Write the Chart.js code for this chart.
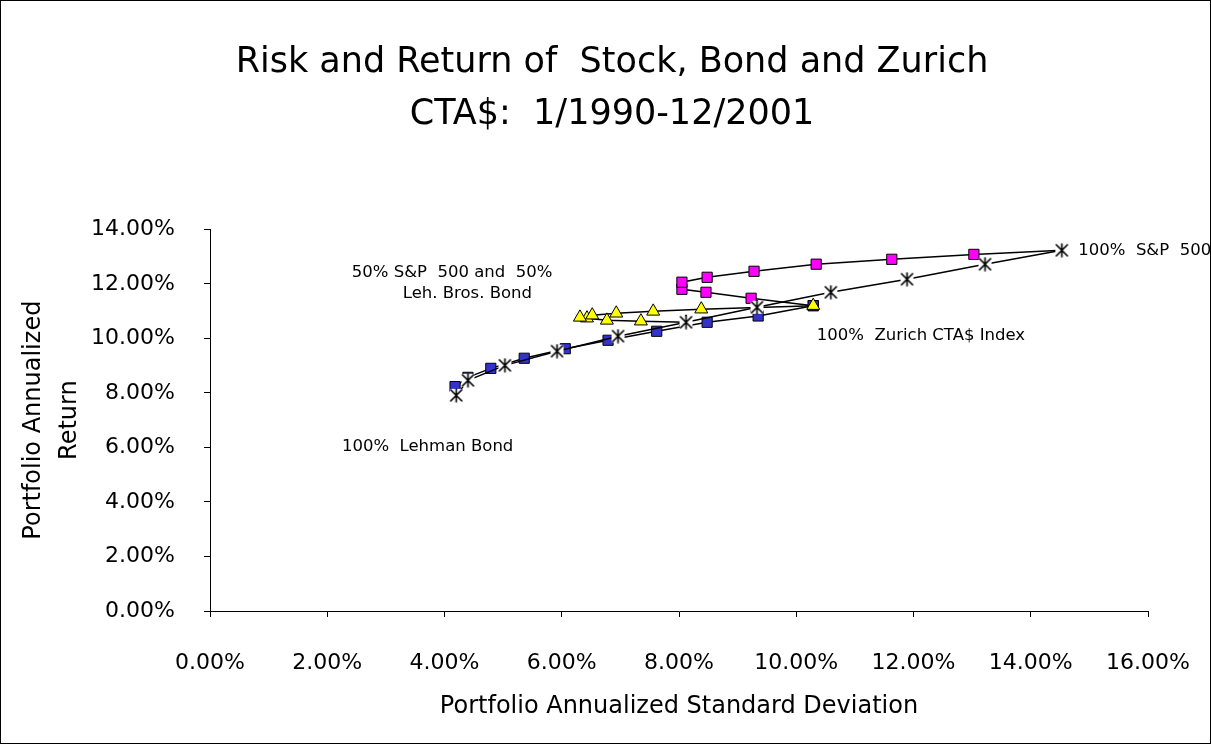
<!DOCTYPE html>
<html>
<head>
<meta charset="utf-8">
<title>Risk and Return of Stock, Bond and Zurich</title>
<script src="https://cdn.jsdelivr.net/npm/chart.js@4.4.1/dist/chart.umd.min.js"></script>
<style>
  html, body { margin: 0; padding: 0; background: #fff; }
  #chart { display: block; }
</style>
</head>
<body>
<canvas id="chart" width="1211" height="744"></canvas>
<script>
// values in percent
const stockBondSD   = [4.20, 4.40, 5.03, 5.92, 6.96, 8.12, 9.33, 10.59, 11.89, 13.22, 14.53];
const stockBondRet  = [7.91, 8.46, 9.01, 9.53, 10.08, 10.59, 11.14, 11.69, 12.17, 12.72, 13.23];

const mixZurichSD   = [8.12, 7.35, 6.77, 6.43, 6.31, 6.52, 6.93, 7.56, 8.38, 9.33, 10.29];
const mixZurichRet  = [10.59, 10.63, 10.66, 10.74, 10.77, 10.85, 10.92, 10.99, 11.07, 11.13, 11.20];

const bondZurichSD  = [4.20, 4.18, 4.40, 4.79, 5.36, 6.06, 6.79, 7.62, 8.48, 9.35, 10.29];
const bondZurichRet = [7.91, 8.23, 8.57, 8.90, 9.27, 9.62, 9.93, 10.26, 10.59, 10.82, 11.20];

const stockZurichSD  = [10.29, 9.23, 8.46, 8.05, 8.05, 8.48, 9.28, 10.34, 11.63, 13.03, 14.53];
const stockZurichRet = [11.20, 11.47, 11.69, 11.80, 12.06, 12.24, 12.46, 12.72, 12.90, 13.08, 13.23];

const xTicks = [0, 2, 4, 6, 8, 10, 12, 14, 16];
const yTicks = [0, 2, 4, 6, 8, 10, 12, 14];

// text notes placed in data coordinates
const noteText  = ['100%  S&P  500', '50% S&P  500 and  50%', 'Leh. Bros. Bond', '100%  Zurich CTA$ Index', '100%  Lehman Bond'];
const noteSD    = [14.81, 4.13, 4.39, 10.35, 2.25];
const noteRet   = [13.23, 12.42, 11.65, 10.11, 6.01];
const noteAlign = ['left', 'center', 'center', 'left', 'left'];

const FONT = "'DejaVu Sans', sans-serif";

function toPoints(xs, ys) {
    return xs.map((x, i) => ({ x: x, y: ys[i] }));
}

// asterisk marker on a small white square, like the original
function makeStar() {
    const c = document.createElement('canvas');
    c.width = 15;
    c.height = 15;
    const g = c.getContext('2d');
    g.fillStyle = '#fff';
    g.fillRect(1, 1, 13, 13);
    g.strokeStyle = '#000';
    g.lineWidth = 1.6;
    g.beginPath();
    g.moveTo(1.5, 1.5); g.lineTo(13.5, 13.5);
    g.moveTo(13.5, 1.5); g.lineTo(1.5, 13.5);
    g.moveTo(7.5, 0.5); g.lineTo(7.5, 14.5);
    g.stroke();
    return c;
}

const frame = {
    id: 'frame',
    beforeDraw(chart) {
        const ctx = chart.ctx;
        ctx.save();
        ctx.fillStyle = '#fff';
        ctx.fillRect(0, 0, chart.width, chart.height);
        ctx.strokeStyle = '#000';
        ctx.lineWidth = 1;
        ctx.strokeRect(0.5, 0.5, chart.width - 1, chart.height - 1);
        ctx.restore();
    }
};

const notes = {
    id: 'notes',
    afterDraw(chart) {
        const ctx = chart.ctx;
        const xs = chart.scales.x;
        const ys = chart.scales.y;
        ctx.save();
        ctx.fillStyle = '#000';
        ctx.font = '16.5px ' + FONT;
        ctx.textBaseline = 'middle';
        noteText.forEach((t, i) => {
            ctx.textAlign = noteAlign[i];
            ctx.fillText(t, xs.getPixelForValue(noteSD[i]), ys.getPixelForValue(noteRet[i]));
        });
        ctx.restore();
    }
};

const lineStyle = { showLine: true, borderColor: '#000', borderWidth: 1.5, tension: 0, pointBorderColor: '#000', pointBorderWidth: 1 };

new Chart(document.getElementById('chart'), {
    type: 'scatter',
    data: {
        datasets: [
            Object.assign({ label: 'Stock / Bond', data: toPoints(stockBondSD, stockBondRet), pointStyle: makeStar(), pointRadius: 7 }, lineStyle),
            Object.assign({ label: '50/50 + Zurich', data: toPoints(mixZurichSD, mixZurichRet), pointStyle: 'triangle', pointRadius: 7.5, pointBackgroundColor: '#ffff00' }, lineStyle),
            Object.assign({ label: 'Bond / Zurich', data: toPoints(bondZurichSD, bondZurichRet), pointStyle: 'rect', pointRadius: 7.2, pointBackgroundColor: '#3333cc' }, lineStyle),
            Object.assign({ label: 'Stock / Zurich', data: toPoints(stockZurichSD, stockZurichRet), pointStyle: 'rect', pointRadius: 7.2, pointBackgroundColor: '#ff00ff' }, lineStyle)
        ]
    },
    options: {
        responsive: false,
        animation: false,
        layout: { padding: { left: 13, right: 0, top: 0, bottom: 0 } },
        plugins: {
            legend: { display: false },
            tooltip: { enabled: false },
            title: {
                display: true,
                text: ['Risk and Return of  Stock, Bond and Zurich', 'CTA$:  1/1990-12/2001'],
                color: '#000',
                font: { family: FONT, size: 35, weight: 'normal', lineHeight: 1.49 },
                padding: { top: 37, bottom: 88 }
            }
        },
        scales: {
            x: {
                type: 'linear',
                min: 0,
                max: 16,
                afterBuildTicks(s) { s.ticks = xTicks.map(v => ({ value: v })); },
                afterFit(s) { s.height = 133; s.paddingRight = 63; },
                border: { color: '#000', width: 1 },
                grid: { drawOnChartArea: false, drawTicks: true, tickLength: 6, color: '#000' },
                ticks: { color: '#000', padding: 33, font: { family: FONT, size: 22 }, callback: v => v.toFixed(2) + '%' },
                title: { display: true, text: 'Portfolio Annualized Standard Deviation', color: '#000', font: { family: FONT, size: 24 }, padding: { top: 0, bottom: 23 } }
            },
            y: {
                type: 'linear',
                min: 0,
                max: 14,
                afterBuildTicks(s) { s.ticks = yTicks.map(v => ({ value: v })); },
                afterFit(s) { s.width = 197; },
                border: { color: '#000', width: 1 },
                grid: { drawOnChartArea: false, drawTicks: true, tickLength: 6, color: '#000' },
                ticks: { color: '#000', padding: 29, font: { family: FONT, size: 22 }, callback: v => v.toFixed(2) + '%' },
                title: { display: true, text: ['Portfolio Annualized', 'Return'], color: '#000', font: { family: FONT, size: 24, lineHeight: 1.5 }, padding: { top: 3, bottom: 0 } }
            }
        }
    },
    plugins: [frame, notes]
});
</script>
</body>
</html>
